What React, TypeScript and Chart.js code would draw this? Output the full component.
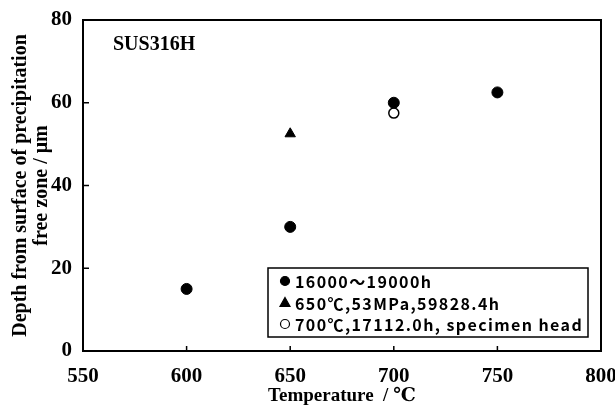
import { useEffect, useRef } from "react";
import { Chart, registerables } from "chart.js";

Chart.register(...registerables);

const seriesLabels = ["16000～19000h", "650℃,53MPa,59828.4h", "700℃,17112.0h, specimen head"];
const longTermTemps = [600, 650, 700, 750];
const longTermDepths = [15, 30, 60, 62.5];
const creepTemps = [650];
const creepDepths = [52.5];
const headTemps = [700];
const headDepths = [57.5];
const xTicks = [550, 600, 650, 700, 750, 800];
const yTicks = [0, 20, 40, 60, 80];
const xTitle = "Temperature  / ℃";
const yTitle = ["Depth from surface of precipitation", "free zone / μm"];
const materialLabel = "SUS316H";

const serif = "'Liberation Serif', 'DejaVu Serif', serif";
const legendFont = "'Noto Sans CJK JP', 'Noto Sans', sans-serif";

const framePlugin = {
  id: "frame",
  beforeDatasetsDraw(chart: any) {
    const { ctx, chartArea: a, scales } = chart;
    ctx.save();
    ctx.strokeStyle = "#000";
    ctx.lineWidth = 2;
    ctx.strokeRect(a.left, a.top, a.right - a.left, a.bottom - a.top);
    ctx.lineWidth = 1.5;
    ctx.beginPath();
    for (const v of yTicks) {
      const py = scales.y.getPixelForValue(v);
      ctx.moveTo(a.left, py);
      ctx.lineTo(a.left + 6, py);
    }
    for (const v of xTicks) {
      const px = scales.x.getPixelForValue(v);
      ctx.moveTo(px, a.bottom);
      ctx.lineTo(px, a.bottom - 5);
    }
    ctx.stroke();
    ctx.fillStyle = "#000";
    ctx.font = `bold 20px ${serif}`;
    ctx.textBaseline = "middle";
    ctx.textAlign = "left";
    ctx.fillText(materialLabel, a.left + 30, a.top + 25);
    ctx.restore();
  },
};

const legendPlugin = {
  id: "boxLegend",
  afterDatasetsDraw(chart: any) {
    const { ctx, chartArea: a } = chart;
    const left = a.left + 185;
    const top = a.top + 248;
    const width = 320;
    const height = 69;
    ctx.save();
    ctx.fillStyle = "#fff";
    ctx.fillRect(left, top, width, height);
    ctx.strokeStyle = "#000";
    ctx.lineWidth = 1.5;
    ctx.strokeRect(left, top, width, height);
    ctx.font = `bold 16px ${legendFont}`;
    (ctx as any).letterSpacing = "1.4px";
    ctx.textBaseline = "middle";
    ctx.textAlign = "left";
    chart.data.datasets.forEach((ds: any, i: number) => {
      const cy = top + 13 + i * 21.5;
      const cx = left + 17;
      ctx.fillStyle = ds.backgroundColor;
      ctx.strokeStyle = "#000";
      ctx.lineWidth = 1.2;
      ctx.beginPath();
      if (ds.pointStyle === "triangle") {
        ctx.moveTo(cx, cy - 5);
        ctx.lineTo(cx + 5, cy + 4);
        ctx.lineTo(cx - 5, cy + 4);
        ctx.closePath();
      } else {
        ctx.arc(cx, cy, 4.5, 0, Math.PI * 2);
      }
      ctx.fill();
      ctx.stroke();
      ctx.fillStyle = "#000";
      ctx.fillText(ds.label, cx + 10, cy + 1);
    });
    ctx.restore();
  },
};

export default function App() {
  const ref = useRef<HTMLCanvasElement | null>(null);
  useEffect(() => {
    document.body.style.margin = "0";
    const canvas = ref.current!;
    const fixPad = (s: any) => {
      s.paddingLeft = 0;
      s.paddingRight = 0;
      s.paddingTop = 0;
      s.paddingBottom = 0;
    };
    const chart = new Chart(canvas, {
      type: "scatter",
      data: {
        datasets: [
          {
            label: seriesLabels[0],
            data: longTermTemps.map((x, i) => ({ x, y: longTermDepths[i] })),
            pointStyle: "circle",
            backgroundColor: "#000",
            borderColor: "#000",
            pointRadius: 5.5,
            borderWidth: 1,
          },
          {
            label: seriesLabels[1],
            data: creepTemps.map((x, i) => ({ x, y: creepDepths[i] })),
            pointStyle: "triangle",
            backgroundColor: "#000",
            borderColor: "#000",
            pointRadius: 6,
            borderWidth: 1,
          },
          {
            label: seriesLabels[2],
            data: headTemps.map((x, i) => ({ x, y: headDepths[i] })),
            pointStyle: "circle",
            backgroundColor: "#fff",
            borderColor: "#000",
            pointRadius: 5,
            borderWidth: 1.5,
          },
        ],
      },
      options: {
        responsive: false,
        animation: false,
        layout: { padding: { top: 20, right: 14, left: 0, bottom: 0 } },
        plugins: {
          legend: { display: false },
          tooltip: { enabled: false },
        },
        scales: {
          x: {
            type: "linear",
            min: 550,
            max: 800,
            afterBuildTicks: (s: any) => {
              s.ticks = xTicks.map((v) => ({ value: v }));
            },
            afterFit: (s: any) => {
              s.height = 56;
              fixPad(s);
            },
            ticks: {
              color: "#000",
              padding: 13,
              font: { family: serif, size: 21, weight: "bold" },
            },
            grid: { display: false, drawTicks: false },
            border: { display: false },
            title: {
              display: true,
              text: xTitle,
              color: "#000",
              font: { family: serif, size: 19, weight: "bold", lineHeight: 1.1 },
              padding: { top: 0, bottom: 0 },
            },
          },
          y: {
            type: "linear",
            min: 0,
            max: 80,
            afterBuildTicks: (s: any) => {
              s.ticks = yTicks.map((v) => ({ value: v }));
            },
            afterFit: (s: any) => {
              s.width = 83;
              fixPad(s);
            },
            ticks: {
              color: "#000",
              padding: 11,
              font: { family: serif, size: 21, weight: "bold" },
            },
            grid: { display: false, drawTicks: false },
            border: { display: false },
            title: {
              display: true,
              text: yTitle,
              color: "#000",
              font: { family: serif, size: 20, weight: "bold", lineHeight: 1.05 },
              padding: { top: 10, bottom: 0 },
            },
          },
        },
      },
      plugins: [framePlugin, legendPlugin],
    } as any);
    return () => chart.destroy();
  }, []);
  return <canvas ref={ref} width={615} height={407} style={{ display: "block" }} />;
}
